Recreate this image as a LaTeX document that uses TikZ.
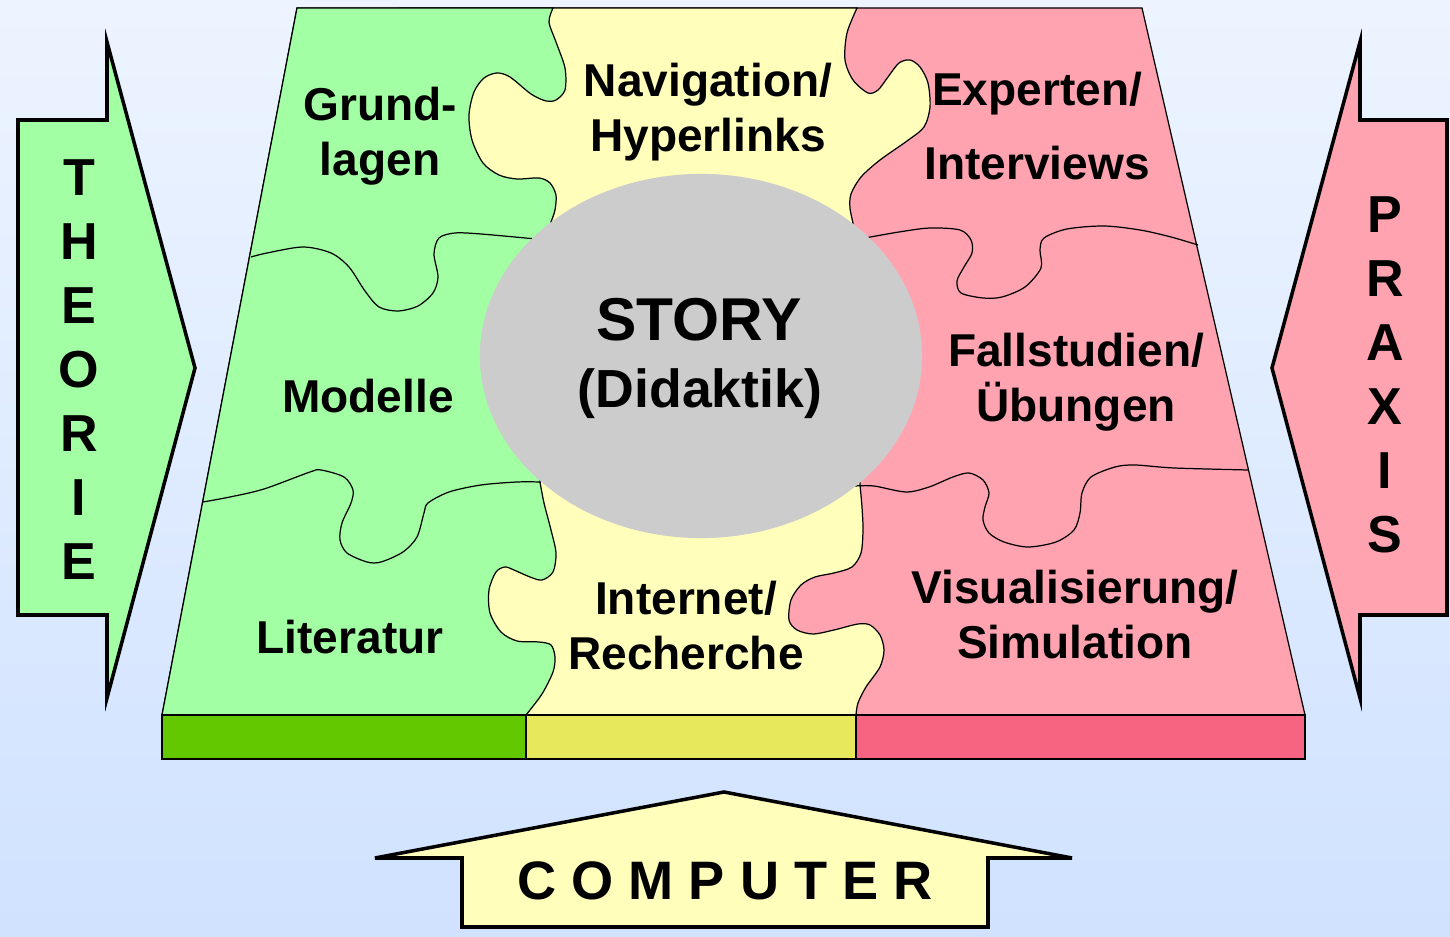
\documentclass[tikz,border=0pt]{standalone}
\usepackage{fontspec}
\setmainfont{Liberation Sans}
\usepackage{tikz}
\usetikzlibrary{shapes.geometric}

\definecolor{bgtop}{RGB}{237,244,255}
\definecolor{bgbot}{RGB}{208,226,255}
\definecolor{greenpc}{RGB}{163,255,163}
\definecolor{yellowpc}{RGB}{255,255,187}
\definecolor{pinkpc}{RGB}{255,163,177}
\definecolor{greenbd}{RGB}{100,200,0}
\definecolor{yellowbd}{RGB}{232,232,92}
\definecolor{pinkbd}{RGB}{246,100,130}
\definecolor{storygray}{RGB}{204,204,204}

\begin{document}
\begin{tikzpicture}[x=0.01cm, y=-0.01cm,
    seam/.style={draw=black, line width=0.35pt},
    bigarrow/.style={draw=black, line width=1pt, line join=miter},
    lbl/.style={font=\bfseries\fontsize{13.1}{15.8}\selectfont, align=center, anchor=north, inner sep=0pt},
    vletter/.style={font=\bfseries\fontsize{14.8}{17}\selectfont, inner sep=0pt}]
    \shade[top color=bgtop, bottom color=bgbot] (0,0) rectangle (1450,937);
    %
    % the board, right column first
    \filldraw[fill=pinkpc, seam] (297,8) -- (1142,8) -- (1305,715) -- (162,715) -- cycle;
    \filldraw[fill=yellowpc, seam] (400,8) -- (857,8)
        -- plot[smooth] coordinates {(857,8) (847,33) (845,60) (853,80) (868,93) (878,90) (888,77) (899,63) (910,60) (920,67) (928,83) (930,107) (924,127) (907,141) (880,160) (861,177) (851,194) (850,208) (853,223)}
        -- (860,485)
        -- plot[smooth] coordinates {(860,485) (862,507) (863,530) (861,553) (852,567) (834,573) (815,577) (801,585) (791,600) (789,620) (797,630) (813,634) (834,630) (858,624) (870,625) (880,635) (884,650) (880,667) (866,687) (858,703) (856,715)}
        -- (400,715) -- cycle;
    \filldraw[fill=greenpc, seam] (297,8) -- (553,8)
        -- plot[smooth] coordinates {(553,8) (549,22) (556,42) (565,68) (565,90) (556,100) (546,101) (531,94) (510,77) (497,73) (484,78) (474,92) (469,115) (472,140) (483,163) (499,175) (517,179) (539,178) (550,183) (556,195) (555,210) (551,222)}
        -- plot[smooth] coordinates {(540,482) (544,503) (551,530) (556,553) (553,572) (542,580) (530,577) (514,570) (505,567) (496,572) (489,590) (490,613) (501,632) (517,641) (539,642) (551,645) (555,657) (553,672) (542,694) (526,715)}
        -- (162,715) -- cycle;
    % seams between the pieces of one column
    \draw[seam] plot[smooth] coordinates {(251,257) (267,253) (303,247) (331,253) (349,267) (365,291) (379,307) (398,311) (418,306) (433,293) (438,277) (434,254) (439,238) (455,233) (481,234) (536,239)};
    \draw[seam] plot[smooth] coordinates {(203,502) (230,497) (264,489) (310,472) (321,470) (344,477) (353,490) (351,503) (342,523) (340,540) (347,553) (367,562) (381,562) (403,552) (417,537) (424,513) (428,503) (449,492) (481,485) (517,482) (541,482)};
    \draw[seam] plot[smooth] coordinates {(865,238) (899,232) (930,228) (960,230) (971,240) (972,253) (964,267) (957,281) (961,293) (983,298) (1002,297) (1025,287) (1041,268) (1040,250) (1044,238) (1067,229) (1104,226) (1140,230) (1171,237) (1198,245)};
    \draw[seam] plot[smooth] coordinates {(855,486) (874,486) (906,492) (929,487) (953,477) (969,473) (983,480) (989,493) (985,507) (983,520) (989,533) (1004,542) (1028,547) (1056,542) (1074,530) (1080,513) (1082,493) (1091,477) (1115,467) (1135,465) (1174,468) (1248,470)};
    %
    \node[ellipse, fill=storygray, minimum width=4.42cm, minimum height=3.64cm, inner sep=0pt] (story) at (701,356) {};
    \node[font=\bfseries\fontsize{17.2}{20}\selectfont, anchor=base, inner sep=0pt] (storytxt) at (699,341) {STORY};
    \node[font=\bfseries\fontsize{15.25}{18}\selectfont, anchor=base, inner sep=0pt] (didaktik) at (700,408) {(Didaktik)};
    %
    % edge of the board
    \filldraw[fill=greenbd, seam] (162,715) rectangle (526,759);
    \filldraw[fill=yellowbd, seam] (526,715) rectangle (856,759);
    \filldraw[fill=pinkbd, seam] (856,715) rectangle (1305,759);
    %
    \node[lbl] (grundlagen) at (380,86) {Grund-\\lagen};
    \node[lbl] (navigation) at (708,62) {Navigation/\\Hyperlinks};
    \node[lbl] (experten) at (1037,71) {Experten/\\[5.5pt]Interviews};
    \node[lbl] (modelle) at (368,378) {Modelle};
    \node[lbl] (fallstudien) at (1076,332) {Fallstudien/\\Übungen};
    \node[lbl] (literatur) at (350,619) {Literatur};
    \node[lbl] (internet) at (686,580) {Internet/\\Recherche};
    \node[lbl] (visual) at (1075,569) {Visualisierung/\\Simulation};
    %
    % big arrows
    \filldraw[fill=greenpc, bigarrow] (18,120) -- (107,120) -- (107,42) -- (195,368) -- (107,698) -- (107,615) -- (18,615) -- cycle;
    \filldraw[fill=pinkpc, bigarrow] (1447,120) -- (1360,120) -- (1360,42) -- (1272,368) -- (1360,698) -- (1360,615) -- (1447,615) -- cycle;
    \filldraw[fill=yellowpc, bigarrow] (462,927) -- (462,858) -- (375,858) -- (724,792) -- (1072,858) -- (988,858) -- (988,927) -- cycle;
    %
    \node[vletter] (theo1) at (79,178) {T};
    \node[vletter] (theo2) at (79,242) {H};
    \node[vletter] (theo3) at (79,306) {E};
    \node[vletter] (theo4) at (79,370) {O};
    \node[vletter] (theo5) at (79,434) {R};
    \node[vletter] (theo6) at (79,498) {I};
    \node[vletter] (theo7) at (79,562) {E};
    \node[vletter] (prax1) at (1385,215) {P};
    \node[vletter] (prax2) at (1385,279) {R};
    \node[vletter] (prax3) at (1385,343) {A};
    \node[vletter] (prax4) at (1385,407) {X};
    \node[vletter] (prax5) at (1385,471) {I};
    \node[vletter] (prax6) at (1385,535) {S};
    \node[font=\bfseries\fontsize{15.4}{18}\selectfont, anchor=base, inner sep=0pt] (computer) at (725,900) {C O M P U T E R};
    %
\end{tikzpicture}
\end{document}
